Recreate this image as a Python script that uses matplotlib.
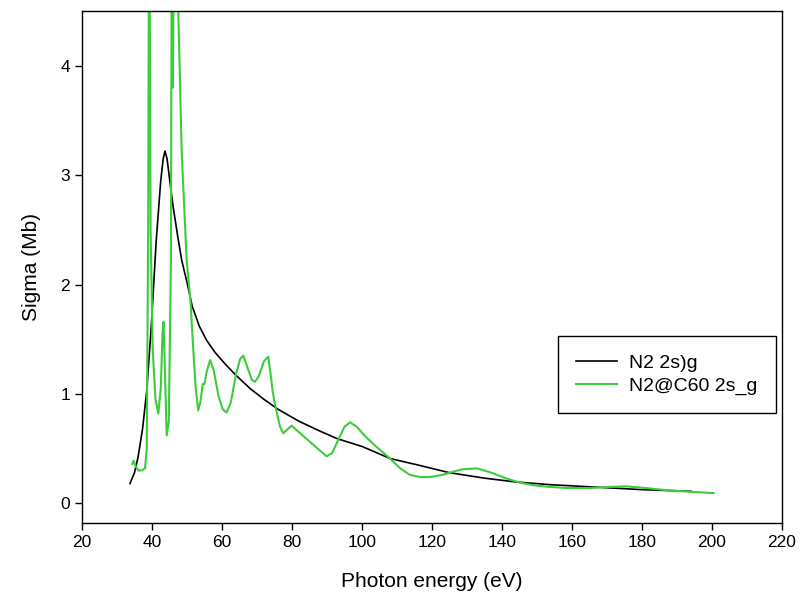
import matplotlib.pyplot as plt

plt.rcParams["font.family"] = ["Liberation Sans Narrow", "Liberation Sans", "DejaVu Sans"]

# N2 2s sigma_g (free molecule)
n2_energy = [33.7, 35.0, 36.0, 37.3, 38.5, 39.8, 41.2, 42.5, 43.2, 43.7, 44.3,
             44.8, 46.0, 47.3, 48.5, 50.0, 51.5, 53.5, 55.6, 58.0, 61.0, 64.0,
             68.0, 72.0, 76.0, 82.0, 88.0, 93.0, 100.0, 108.0, 116.0, 125.0,
             135.0, 144.0, 154.0, 168.0, 180.0, 194.0]
n2_sigma = [0.18, 0.28, 0.42, 0.68, 1.03, 1.62, 2.40, 2.95, 3.15, 3.22, 3.15,
            3.02, 2.72, 2.45, 2.22, 2.02, 1.80, 1.62, 1.49, 1.38, 1.27, 1.17,
            1.05, 0.95, 0.86, 0.75, 0.66, 0.59, 0.52, 0.41, 0.35, 0.28,
            0.23, 0.195, 0.17, 0.146, 0.125, 0.11]

# N2@C60 2s sigma_g (encapsulated)
c60_energy = [34.4, 34.7, 35.3, 36.1, 37.0, 38.0, 38.5, 38.9, 39.2, 39.6, 40.2,
              41.0, 41.8, 42.5, 43.0, 43.3, 43.7, 44.2, 44.8, 45.4, 45.7, 46.0,
              46.3, 46.6, 47.5, 48.5, 49.9, 51.0, 51.4, 51.8, 52.5, 53.2, 53.8,
              54.5, 55.0, 55.6, 56.6, 57.6, 59.0, 60.2, 61.3, 62.5, 64.0, 65.2,
              66.1, 67.3, 68.5, 69.4, 70.5, 72.0, 73.2, 73.9, 74.5, 75.1, 76.0,
              76.6, 77.5, 78.5, 79.9, 82.0, 84.5, 87.0, 89.9, 91.5, 93.5, 95.0,
              96.6, 98.5, 101.0, 104.0, 108.0, 110.9, 113.7, 116.6, 119.4, 123.0,
              125.0, 128.5, 132.8, 137.0, 141.0, 145.0, 149.0, 153.5, 158.5,
              165.0, 171.0, 175.6, 181.0, 187.0, 194.0, 200.5]
c60_sigma = [0.36, 0.39, 0.34, 0.30, 0.30, 0.32, 0.50, 2.5, 6.0, 2.5, 1.40,
             0.95, 0.82, 1.05, 1.55, 1.66, 1.20, 0.62, 0.75, 2.2, 6.0, 3.8,
             6.0, 6.0, 4.5, 3.2, 2.22, 1.85, 1.62, 1.40, 1.05, 0.85, 0.92,
             1.09, 1.09, 1.20, 1.31, 1.22, 0.98, 0.86, 0.83, 0.92, 1.18, 1.32,
             1.35, 1.24, 1.13, 1.11, 1.16, 1.30, 1.34, 1.18, 1.02, 0.91, 0.78,
             0.70, 0.64, 0.67, 0.71, 0.65, 0.58, 0.51, 0.43, 0.46, 0.60, 0.70,
             0.74, 0.70, 0.61, 0.52, 0.41, 0.32, 0.26, 0.24, 0.24, 0.26,
             0.28, 0.31, 0.32, 0.28, 0.23, 0.19, 0.165, 0.15, 0.14,
             0.14, 0.15, 0.155, 0.14, 0.12, 0.105, 0.094]

x_ticks = [20, 40, 60, 80, 100, 120, 140, 160, 180, 200, 220]
y_ticks = [0, 1, 2, 3, 4]

fig = plt.figure(figsize=(8.12, 6.11), dpi=100)
ax = fig.add_axes([0.101, 0.144, 0.862, 0.838])

ax.plot(n2_energy, n2_sigma, color="black", lw=1.2, label="N2 2s)g")
ax.plot(c60_energy, c60_sigma, color="#3ccc3c", lw=1.5, label="N2@C60 2s_g")

ax.set_xlim(20, 220)
ax.set_ylim(-0.18, 4.5)
ax.set_xticks(x_ticks)
ax.set_yticks(y_ticks)
ax.tick_params(direction="out", length=5, width=1, labelsize=12.5, top=False, right=False)
for s in ax.spines.values():
    s.set_linewidth(1)

ax.set_xlabel("Photon energy (eV)", fontsize=15, labelpad=16)
ax.set_ylabel("Sigma (Mb)", fontsize=15, labelpad=14)

leg = ax.legend(loc="upper left", bbox_to_anchor=(0.68, 0.365), borderaxespad=0,
                fontsize=14, fancybox=False, edgecolor="black", framealpha=1,
                handlelength=2.1, borderpad=0.95, labelspacing=0.25, handletextpad=0.6)
leg.get_frame().set_linewidth(1)

fig.savefig("out.png", dpi=100)
